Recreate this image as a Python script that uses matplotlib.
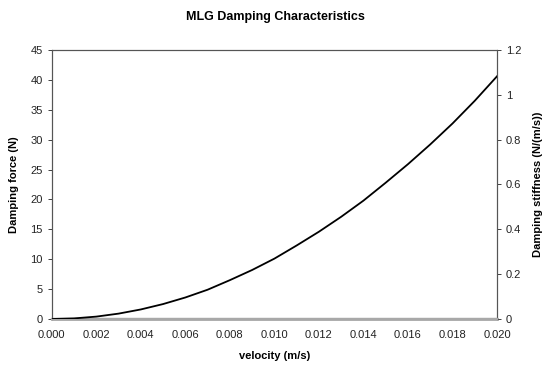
import matplotlib
matplotlib.use("Agg")
import matplotlib.pyplot as plt

plt.rcParams['font.family'] = ['Liberation Sans', 'DejaVu Sans']

velocity = [0.000, 0.001, 0.002, 0.003, 0.004, 0.005, 0.006, 0.007, 0.008, 0.009, 0.010,
            0.011, 0.012, 0.013, 0.014, 0.015, 0.016, 0.017, 0.018, 0.019, 0.020]
damping_force = [0.0, 0.1, 0.4, 0.9, 1.6, 2.5, 3.6, 4.9, 6.5, 8.2, 10.1,
                 12.3, 14.6, 17.1, 19.8, 22.8, 25.9, 29.2, 32.7, 36.5, 40.6]
damping_stiffness = [0.0] * len(velocity)

x_ticks = [0.000, 0.002, 0.004, 0.006, 0.008, 0.010, 0.012, 0.014, 0.016, 0.018, 0.020]
left_ticks = [0, 5, 10, 15, 20, 25, 30, 35, 40, 45]
right_ticks = [0, 0.2, 0.4, 0.6, 0.8, 1.0, 1.2]
right_labels = ['0', '0.2', '0.4', '0.6', '0.8', '1', '1.2']

fig = plt.figure(figsize=(5.51, 3.69), dpi=100)
ax = fig.add_axes([0.094, 0.1355, 0.808, 0.729])
ax2 = ax.twinx()

ax2.plot(velocity, damping_stiffness, color='#a8a8a8', lw=2.0, clip_on=False, zorder=1)
ax.plot(velocity, damping_force, color='black', lw=1.3, zorder=3)
ax.set_zorder(ax2.get_zorder() + 1)
ax.patch.set_visible(False)

ax.set_xlim(0, 0.020)
ax.set_ylim(0, 45)
ax2.set_ylim(0, 1.2)
ax.set_xticks(x_ticks)
ax.set_xticklabels([f"{v:.3f}" for v in x_ticks])
ax.set_yticks(left_ticks)
ax2.set_yticks(right_ticks)
ax2.set_yticklabels(right_labels)

for a in (ax, ax2):
    for s in a.spines.values():
        s.set_color('#555555')
        s.set_linewidth(0.8)
    a.tick_params(labelsize=8, colors='#222222', length=3, width=0.6, direction='out')
    a.spines['bottom'].set_color('#a8a8a8')
    a.spines['bottom'].set_linewidth(1.6)
ax.tick_params(axis='x', length=0, pad=8)

ax.set_xlabel('velocity (m/s)', fontsize=8, fontweight='bold', labelpad=8)
ax.set_ylabel('Damping force (N)', fontsize=8, fontweight='bold', labelpad=8)
ax2.set_ylabel('Damping stiffness (N/(m/s))', fontsize=8, fontweight='bold', labelpad=8)
fig.text(0.5, 0.953, 'MLG Damping Characteristics', ha='center', va='center',
         fontsize=9, fontweight='bold')

fig.savefig('out.png', dpi=100)
